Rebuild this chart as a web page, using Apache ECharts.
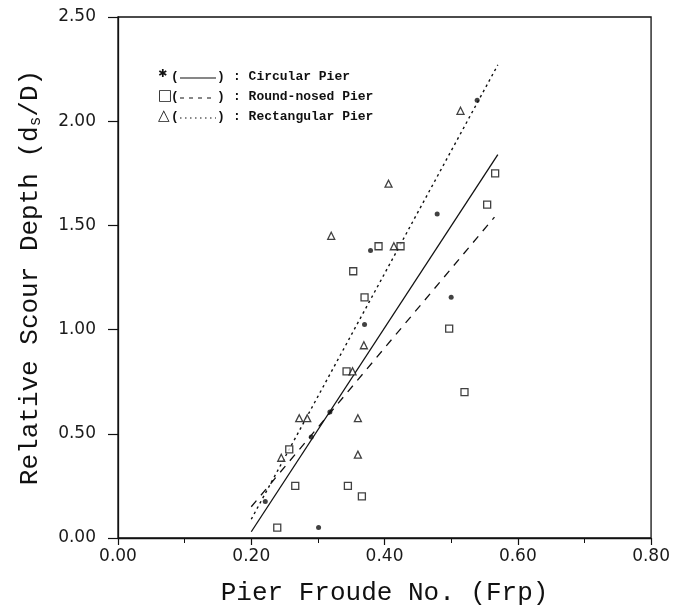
<!DOCTYPE html>
<html><head><meta charset="utf-8">
<script src="https://cdn.jsdelivr.net/npm/echarts@6/dist/echarts.min.js"></script>
<style>html,body{margin:0;padding:0;background:#fff}#c{width:673px;height:611px}</style>
</head><body><div id="c"></div>
<script>
// Circular pier data (Frp, ds/D)
const circularX = [0.221, 0.290, 0.318, 0.301, 0.370, 0.379, 0.479, 0.500, 0.539];
const circularY = [0.175, 0.485, 0.605, 0.050, 1.025, 1.380, 1.555, 1.155, 2.100];
// Round-nosed pier data
const roundX = [0.239, 0.257, 0.266, 0.343, 0.345, 0.353, 0.366, 0.370, 0.391, 0.424, 0.497, 0.520, 0.554, 0.566];
const roundY = [0.050, 0.425, 0.250, 0.800, 0.250, 1.280, 0.200, 1.155, 1.400, 1.400, 1.005, 0.700, 1.600, 1.750];
// Rectangular pier data
const rectX = [0.245, 0.272, 0.284, 0.320, 0.352, 0.360, 0.360, 0.369, 0.406, 0.414, 0.514];
const rectY = [0.385, 0.575, 0.575, 1.450, 0.800, 0.575, 0.400, 0.925, 1.700, 1.400, 2.050];
// Fitted line endpoints
const circLineX = [0.20, 0.57];
const circLineY = [0.03, 1.84];
const roundLineX = [0.20, 0.565];
const roundLineY = [0.15, 1.54];
const rectLineX = [0.20, 0.57];
const rectLineY = [0.09, 2.27];
// Axis ticks
const xTicks = [0.00, 0.20, 0.40, 0.60, 0.80];
const yTicks = [0.00, 0.50, 1.00, 1.50, 2.00, 2.50];
const legendNames = ['Circular Pier', 'Round-nosed Pier', 'Rectangular Pier'];

const zip = (a, b) => a.map((v, i) => [v, b[i]]);
const chart = echarts.init(document.getElementById('c'), null, {renderer: 'canvas'});
const ink = '#111';
const tickFont = {fontFamily: 'DejaVu Sans', fontSize: 17, color: '#1a1a1a'};
const titleFont = {fontFamily: 'Liberation Mono', fontSize: 26, color: ink};

const rows = [
  {y: 78, sym: '✱', dash: 'solid'},
  {y: 98, sym: '□', dash: [4, 5]},
  {y: 118, sym: '△', dash: [1.5, 3.5]}
];
const graphics = [];
rows.forEach((r, i) => {
  graphics.push({type: 'text', left: 158, top: r.y - 9, style: {text: r.sym, font: (i === 0 ? '11px' : '15px') + ' "DejaVu Sans"', fill: ink}, silent: true});
  graphics.push({type: 'text', left: 171, top: r.y - 8, style: {text: '(', font: 'bold 13px "Liberation Mono"', fill: ink}, silent: true});
  graphics.push({type: 'line', shape: {x1: 180, y1: r.y, x2: 216, y2: r.y}, style: {stroke: ink, lineWidth: 1.2, lineDash: r.dash === 'solid' ? null : r.dash}, silent: true});
  graphics.push({type: 'text', left: 217, top: r.y - 8, style: {text: ')', font: 'bold 13px "Liberation Mono"', fill: ink}, silent: true});
  graphics.push({type: 'text', left: 233, top: r.y - 8, style: {text: ': ' + legendNames[i], font: 'bold 13px "Liberation Mono"', fill: ink}, silent: true});
});

chart.setOption({
  animation: false,
  backgroundColor: '#fff',
  grid: {left: 118, right: 20, top: 17, bottom: 73, show: true, borderColor: ink, borderWidth: 1.3},
  xAxis: {
    type: 'value', min: 0, max: 0.8, interval: 0.2,
    name: 'Pier Froude No. (Frp)', nameLocation: 'middle', nameGap: 42,
    nameTextStyle: titleFont,
    axisLine: {lineStyle: {color: ink, width: 1.3}},
    axisTick: {inside: false, length: 7, lineStyle: {color: ink, width: 1.2}},
    minorTick: {show: true, splitNumber: 2, length: 5, lineStyle: {color: ink, width: 1}},
    splitLine: {show: false},
    axisLabel: Object.assign({margin: 10, formatter: v => v.toFixed(2)}, tickFont)
  },
  yAxis: {
    type: 'value', min: 0, max: 2.5, interval: 0.5,
    name: '{a|Relative Scour Depth (d}{s|s}{a|/D)}', nameLocation: 'middle', nameGap: 74, nameRotate: 90,
    nameTextStyle: {rich: {a: titleFont, s: {fontFamily: 'Liberation Mono', fontSize: 16, color: ink, padding: [12, 0, 0, 0]}}},
    axisLine: {lineStyle: {color: ink, width: 1.3}},
    axisTick: {inside: false, length: 10, lineStyle: {color: ink, width: 1.2}},
    splitLine: {show: false},
    axisLabel: Object.assign({margin: 22, formatter: v => v.toFixed(2)}, tickFont)
  },
  series: [
    {type: 'line', data: zip(circLineX, circLineY), symbol: 'none', lineStyle: {color: ink, width: 1.3, type: 'solid'}, z: 2},
    {type: 'line', data: zip(roundLineX, roundLineY), symbol: 'none', lineStyle: {color: ink, width: 1.3, type: [8, 7]}, z: 2},
    {type: 'line', data: zip(rectLineX, rectLineY), symbol: 'none', lineStyle: {color: ink, width: 1.4, type: [2.5, 3.5]}, z: 2},
    {type: 'scatter', name: legendNames[0], data: zip(circularX, circularY), symbol: 'circle', symbolSize: 5, itemStyle: {color: ink}, z: 3},
    {type: 'scatter', name: legendNames[1], data: zip(roundX, roundY), symbol: 'rect', symbolSize: 7, itemStyle: {color: '#fff', borderColor: ink, borderWidth: 1.3}, z: 3},
    {type: 'scatter', name: legendNames[2], data: zip(rectX, rectY), symbol: 'triangle', symbolSize: 7, itemStyle: {color: '#fff', borderColor: ink, borderWidth: 1.3}, z: 3}
  ],
  graphic: graphics
});
</script>
</body></html>
